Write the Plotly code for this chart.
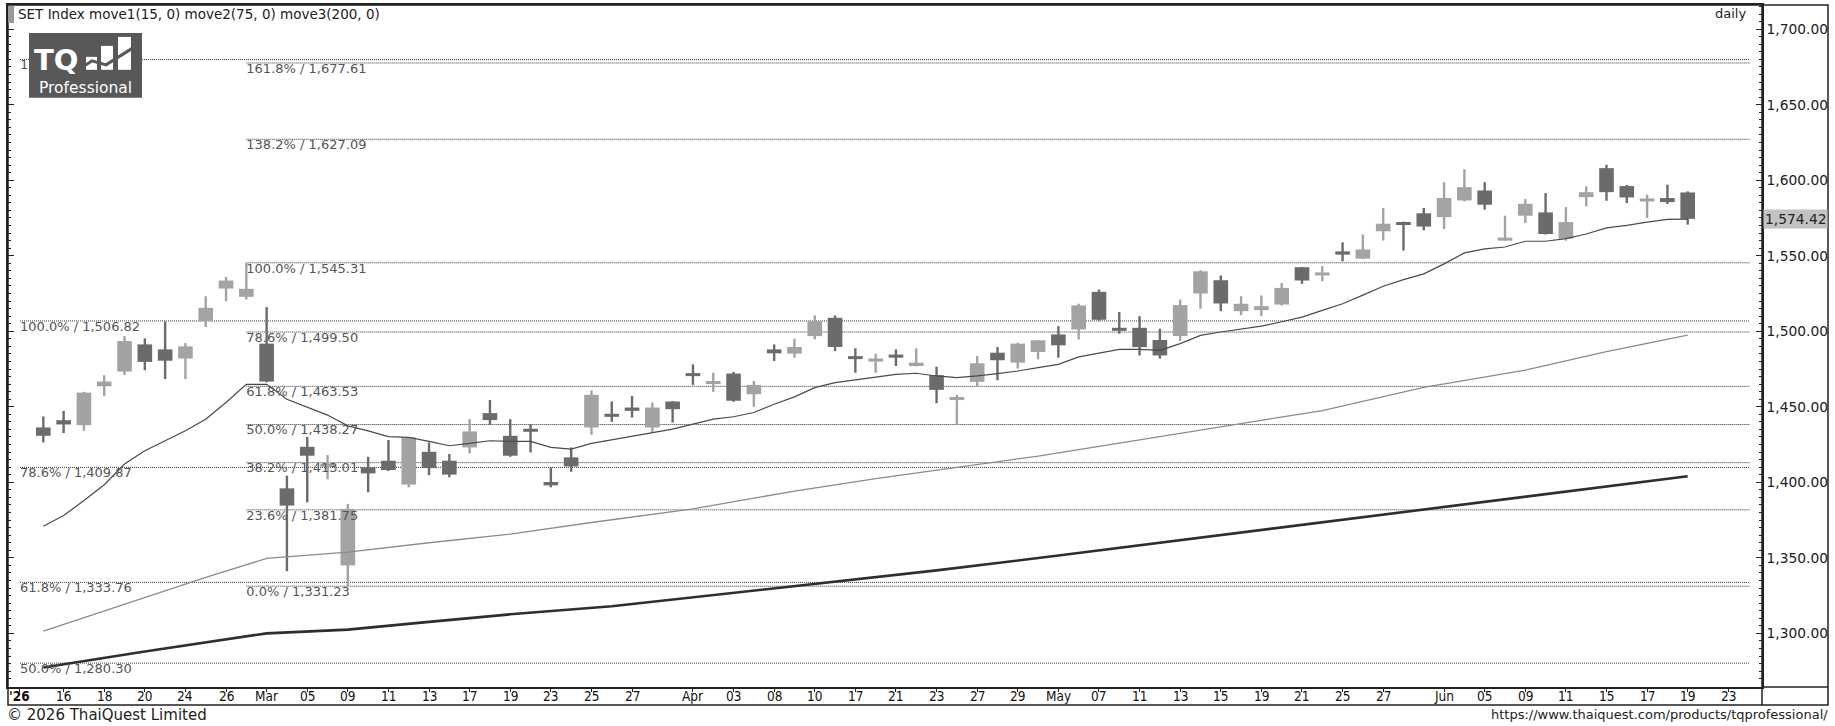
import plotly.graph_objects as go

# ---------------- data ----------------
opens = [1436.3, 1441.1, 1437.8, 1463.6, 1473.3, 1491.3, 1488.0, 1482.0, 1506.7, 1528.3,
         1522.8, 1491.8, 1396.0, 1423.5, 1410.5, 1345.0, 1409.9, 1414.3, 1398.5, 1420.2,
         1414.3, 1423.1, 1445.8, 1430.8, 1435.2, 1400.2, 1416.5, 1436.3, 1445.1, 1449.5,
         1436.3, 1453.5, 1472.0, 1465.4, 1472.0, 1458.3, 1488.0, 1485.2, 1496.8, 1508.9,
         1483.2, 1480.3, 1484.3, 1477.0, 1470.9, 1454.8, 1466.5, 1485.8, 1479.2, 1486.3,
         1497.9, 1501.2, 1526.1, 1502.0, 1502.3, 1494.2, 1496.8, 1525.0, 1533.8, 1513.3,
         1514.0, 1517.7, 1542.4, 1537.3, 1552.9, 1548.1, 1566.2, 1572.1, 1578.1, 1575.6,
         1586.6, 1593.2, 1560.2, 1576.5, 1578.7, 1561.3, 1588.8, 1608.0, 1596.1, 1586.4,
         1588.2, 1591.9]
highs = [1443.6, 1447.3, 1459.9, 1470.9, 1496.8, 1495.3, 1506.5, 1492.2, 1523.2, 1536.0,
         1545.31, 1516.0, 1404.4, 1430.1, 1418.0, 1385.7, 1416.9, 1428.0, 1430.0, 1426.4,
         1418.7, 1441.8, 1454.5, 1441.8, 1438.5, 1409.9, 1423.1, 1460.9, 1453.5, 1457.2,
         1452.8, 1453.8, 1478.1, 1472.6, 1473.1, 1467.1, 1491.3, 1495.0, 1510.5, 1510.5,
         1488.7, 1485.1, 1488.0, 1488.7, 1476.6, 1457.9, 1483.6, 1489.6, 1492.4, 1494.2,
         1503.4, 1518.2, 1527.6, 1512.7, 1510.0, 1501.7, 1521.0, 1540.4, 1536.9, 1523.2,
         1523.7, 1532.0, 1542.6, 1543.1, 1558.9, 1564.0, 1581.6, 1572.6, 1581.6, 1598.7,
         1607.3, 1598.7, 1576.5, 1587.5, 1591.5, 1582.2, 1595.9, 1610.2, 1596.9, 1590.4,
         1597.0, 1592.6]
lows = [1426.4, 1432.6, 1434.1, 1457.0, 1471.1, 1474.2, 1468.4, 1468.4, 1502.8, 1519.9,
        1521.0, 1466.2, 1341.2, 1386.8, 1402.0, 1331.23, 1393.4, 1407.5, 1396.7, 1404.8,
        1403.3, 1419.1, 1438.1, 1416.9, 1419.8, 1396.7, 1407.0, 1431.4, 1440.0, 1442.9,
        1433.0, 1439.6, 1464.5, 1459.9, 1453.3, 1450.0, 1480.3, 1482.5, 1494.6, 1486.9,
        1472.6, 1472.6, 1477.0, 1476.8, 1452.4, 1437.9, 1463.4, 1467.6, 1475.3, 1481.4,
        1482.5, 1494.6, 1507.0, 1498.4, 1484.0, 1481.9, 1493.5, 1514.9, 1513.3, 1510.7,
        1510.0, 1517.0, 1531.4, 1533.2, 1546.3, 1547.8, 1560.0, 1553.4, 1566.8, 1567.7,
        1586.0, 1580.5, 1560.0, 1571.7, 1564.0, 1560.0, 1582.7, 1586.4, 1584.9, 1575.0,
        1584.2, 1570.6]
closes = [1430.8, 1438.3, 1459.4, 1466.7, 1493.5, 1479.7, 1480.5, 1490.0, 1515.5, 1533.6,
          1528.1, 1466.7, 1384.6, 1417.6, 1412.0, 1382.4, 1405.9, 1408.1, 1429.7, 1409.4,
          1405.1, 1433.7, 1441.2, 1417.6, 1433.7, 1398.0, 1410.5, 1457.9, 1443.6, 1447.3,
          1449.5, 1448.4, 1470.6, 1466.7, 1454.0, 1464.5, 1485.4, 1489.6, 1506.7, 1489.6,
          1481.9, 1481.6, 1482.8, 1479.2, 1461.2, 1456.1, 1478.8, 1480.8, 1491.8, 1494.0,
          1490.7, 1517.1, 1507.6, 1500.6, 1489.5, 1484.0, 1517.3, 1539.7, 1518.4, 1518.2,
          1516.6, 1528.7, 1533.6, 1538.6, 1550.7, 1554.1, 1571.2, 1570.6, 1569.3, 1588.2,
          1595.4, 1583.8, 1561.8, 1584.4, 1564.4, 1572.3, 1592.1, 1592.1, 1588.6, 1587.5,
          1585.5, 1574.42]

ma15 = [1370.9, 1378.0, 1387.9, 1398.4, 1412.1, 1420.9, 1427.5, 1434.1, 1441.8, 1452.8,
        1464.9, 1464.9, 1455.0, 1449.5, 1444.5, 1437.4, 1434.1, 1430.2, 1429.7, 1427.1,
        1424.2, 1425.8, 1427.5, 1427.1, 1427.1, 1423.1, 1422.0, 1425.8, 1428.2, 1430.4,
        1433.0, 1435.2, 1438.5, 1441.8, 1443.4, 1446.2, 1451.7, 1456.6, 1462.7, 1466.0,
        1467.8, 1469.6, 1471.5, 1472.2, 1470.4, 1469.3, 1470.4, 1472.0, 1473.7, 1475.9,
        1478.1, 1483.0, 1485.4, 1488.0, 1488.0, 1487.4, 1491.8, 1497.3, 1499.5, 1501.2,
        1503.4, 1506.3, 1509.4, 1513.8, 1518.2, 1523.9, 1529.8, 1534.2, 1538.0, 1544.6,
        1551.9, 1554.5, 1555.8, 1559.6, 1559.6, 1561.3, 1564.4, 1568.4, 1570.1, 1572.3,
        1574.1, 1574.3]

ma75_idx = [0, 4, 8, 11, 15, 19, 23, 27, 32, 37, 41, 45, 49, 53, 58, 63, 68, 73, 77, 81]
ma75_val = [1301.4, 1319.0, 1337.0, 1349.6, 1353.8, 1360.0, 1365.7, 1373.4, 1382.4, 1394.2,
            1402.5, 1409.9, 1417.3, 1426.0, 1436.8, 1447.5, 1462.8, 1474.2, 1486.5, 1497.5]

ma200_idx = [0, 5, 11, 15, 19, 23, 28, 32, 38, 44, 50, 55, 61, 67, 74, 81]
ma200_val = [1277.4, 1288.0, 1300.0, 1302.5, 1307.6, 1312.6, 1317.9, 1323.9, 1333.0, 1341.7,
             1351.5, 1360.0, 1370.0, 1380.0, 1392.0, 1404.0]

tick_idx = [-1.15, 1, 3, 5, 7, 9, 11, 13, 15, 17, 19, 21, 23, 25, 27, 29, 32, 34, 36, 38, 40,
            42, 44, 46, 48, 50, 52, 54, 56, 58, 60, 62, 64, 66, 69, 71, 73, 75, 77, 79, 81, 83]
tick_text = ["<b>'26</b>", "16", "18", "20", "24", "26", "Mar", "05", "09", "11", "13", "17",
             "19", "23", "25", "27", "Apr", "03", "08", "10", "17", "21", "23", "27", "29",
             "May", "07", "11", "13", "15", "19", "21", "25", "27", "Jun", "05", "09", "11",
             "15", "17", "19", "23"]

fib_left_start = -1.15
fib_left_pcts = [50.0, 61.8, 78.6, 100.0, 138.2]
fib_left_vals = [1280.30, 1333.76, 1409.87, 1506.82, 1679.88]
fib_right_start = 10
fib_right_pcts = [0.0, 23.6, 38.2, 50.0, 61.8, 78.6, 100.0, 138.2, 161.8]
fib_right_vals = [1331.23, 1381.75, 1413.01, 1438.27, 1463.53, 1499.50, 1545.31, 1627.09, 1677.61]
fib_end = 84.07

last_price = 1574.42
y_ticks = [1300, 1350, 1400, 1450, 1500, 1550, 1600, 1650, 1700]

# ---------------- layout geometry (pixels of the 1835x726 page) ----------------
W, H = 1835, 726
FX0, FX1, FY0, FY1 = 8, 1828, 3, 705          # outer frame = paper area
PR, PB = 1762, 687                            # plot right edge / plot bottom
X_RANGE = [-1.74, 84.66]
Y_RANGE = [1264.45, 1716.0]


def px(x):
    return (x - FX0) / (FX1 - FX0)


def py(y):
    return (FY1 - y) / (FY1 - FY0)


BULL = "#a3a3a3"
BEAR = "#6b6b6b"
TXT = "#555555"
FONT = "DejaVu Sans"
NARROW = "Liberation Sans Narrow, Arial Narrow, DejaVu Sans Condensed, sans-serif"
FRAME = "#222222"

n = len(closes)
fig = go.Figure()

# candle bodies + wicks
MIN_BODY = 2.0
for kind, color in (("bull", BULL), ("bear", BEAR)):
    xs, bases, hs = [], [], []
    for i in range(n):
        is_bull = closes[i] >= opens[i]
        if (kind == "bull") != is_bull:
            continue
        lo, hi = min(opens[i], closes[i]), max(opens[i], closes[i])
        if hi - lo < MIN_BODY:
            m = (hi + lo) / 2
            lo, hi = m - MIN_BODY / 2, m + MIN_BODY / 2
        xs.append(i)
        bases.append(lo)
        hs.append(hi - lo)
    fig.add_trace(go.Bar(x=xs, y=hs, base=bases, width=0.72,
                         marker=dict(color=color, line=dict(width=0)),
                         hoverinfo="skip", showlegend=False))
    wx, wy = [], []
    for i in xs:
        wx += [i, i, None]
        wy += [lows[i], highs[i], None]
    fig.add_trace(go.Scatter(x=wx, y=wy, mode="lines",
                             line=dict(color=color, width=2.4),
                             hoverinfo="skip", showlegend=False))

# moving averages
fig.add_trace(go.Scatter(x=ma200_idx, y=ma200_val, mode="lines",
                         line=dict(color="#2e2e2e", width=2.6),
                         hoverinfo="skip", showlegend=False))
fig.add_trace(go.Scatter(x=ma75_idx, y=ma75_val, mode="lines",
                         line=dict(color="#8c8c8c", width=1.3),
                         hoverinfo="skip", showlegend=False))
fig.add_trace(go.Scatter(x=list(range(n)), y=ma15, mode="lines",
                         line=dict(color="#4a4a4a", width=1.2),
                         hoverinfo="skip", showlegend=False))

# fibonacci lines and labels
shapes = []
for start, pcts, vals in ((fib_left_start, fib_left_pcts, fib_left_vals),
                          (fib_right_start, fib_right_pcts, fib_right_vals)):
    for v in vals:
        shapes.append(dict(type="line", xref="x", yref="y", x0=start, x1=fib_end, y0=v, y1=v,
                           line=dict(color="#303030", width=1, dash="1px,1px"), layer="below"))
    fig.add_trace(go.Scatter(
        x=[start] * len(vals), y=vals, mode="text",
        text=[f"{p:.1f}% / {v:,.2f}" for p, v in zip(pcts, vals)],
        textposition="bottom right",
        textfont=dict(family=FONT, size=13, color=TXT),
        hoverinfo="skip", showlegend=False, cliponaxis=False))

# outer frame, price-axis separator, bottom-right box
shapes.append(dict(type="rect", xref="paper", yref="paper", x0=0, x1=1, y0=0, y1=1,
                   line=dict(color=FRAME, width=1.5), layer="above"))
shapes.append(dict(type="line", xref="paper", yref="paper",
                   x0=px(PR), x1=px(PR), y0=0, y1=1,
                   line=dict(color=FRAME, width=1.5), layer="above"))
shapes.append(dict(type="line", xref="paper", yref="paper",
                   x0=px(PR), x1=1, y0=py(PB), y1=py(PB),
                   line=dict(color=FRAME, width=1.5), layer="above"))
# small indicator block next to the title
shapes.append(dict(type="rect", xref="paper", yref="paper",
                   x0=px(8), x1=px(14), y0=py(21), y1=py(4),
                   fillcolor="#9a9a9a", line=dict(width=0), layer="above"))
# logo
shapes.append(dict(type="rect", xref="paper", yref="paper",
                   x0=px(29), x1=px(142), y0=py(96), y1=py(31),
                   fillcolor="#585858", line=dict(width=0), layer="above"))
for bx0, bx1, btop in ((86, 97, 55), (101, 113, 44), (118, 131, 35)):
    shapes.append(dict(type="rect", xref="paper", yref="paper",
                       x0=px(bx0), x1=px(bx1), y0=py(68), y1=py(btop),
                       fillcolor="white", line=dict(width=0), layer="above"))
shapes.append(dict(type="path", xref="paper", yref="paper",
                   path="M {} {} L {} {} L {} {} L {} {}".format(
                       px(80), py(67), px(92), py(59), px(106), py(63), px(133), py(46)),
                   line=dict(color="#585858", width=3), layer="above"))

annotations = [
    dict(text="SET Index move1(15, 0) move2(75, 0) move3(200, 0)", xref="paper", yref="paper",
         x=px(16), y=py(12), xanchor="left", yanchor="middle", showarrow=False,
         font=dict(family=FONT, size=13.5, color="#222")),
    dict(text="daily", xref="paper", yref="paper", x=px(1748), y=py(12),
         xanchor="right", yanchor="middle", showarrow=False,
         font=dict(family=FONT, size=13, color="#222")),
    dict(text="TQ", xref="paper", yref="paper", x=px(32), y=py(58),
         xanchor="left", yanchor="middle", showarrow=False,
         font=dict(family="DejaVu Sans", size=29, color="white", weight="bold")),
    dict(text="Professional", xref="paper", yref="paper", x=px(85.5), y=py(86),
         xanchor="center", yanchor="middle", showarrow=False,
         font=dict(family=FONT, size=15.5, color="white")),
    dict(text=f"{last_price:,.2f}", xref="paper", yref="y", x=px(1763), y=last_price,
         xanchor="left", yanchor="middle", showarrow=False, bgcolor="#c2c2c2",
         borderpad=1, font=dict(family=FONT, size=13.8, color="#222")),
    dict(text="© 2026 ThaiQuest Limited", xref="paper", yref="paper", x=px(5), y=py(715),
         xanchor="left", yanchor="middle", showarrow=False,
         font=dict(family=FONT, size=15, color="#222")),
    dict(text="https://www.thaiquest.com/products/tqprofessional/", xref="paper", yref="paper",
         x=px(1830), y=py(715), xanchor="right", yanchor="middle", showarrow=False,
         font=dict(family=FONT, size=13, color="#222")),
]
# date labels under the axis (placed as text so they sit tight under the ticks)
for xi, tt in zip(tick_idx, tick_text):
    annotations.append(dict(text=tt, xref="x", yref="paper", x=xi, y=py(696),
                            xanchor="center", yanchor="middle", showarrow=False,
                            font=dict(family=NARROW, size=13.5, color="#111")))

fig.update_layout(
    width=W, height=H,
    margin=dict(l=FX0, r=W - FX1, t=FY0, b=H - FY1, pad=0),
    paper_bgcolor="white", plot_bgcolor="white",
    barmode="overlay", showlegend=False,
    shapes=shapes, annotations=annotations,
    xaxis=dict(domain=[0, px(PR)], range=X_RANGE, tickmode="array", tickvals=tick_idx,
               showticklabels=False,
               ticks="outside", ticklen=3, tickcolor=FRAME, showgrid=False, zeroline=False,
               showline=True, linecolor=FRAME, linewidth=1.5, mirror=True),
    yaxis=dict(domain=[py(PB), 1], range=Y_RANGE, side="right", tickmode="array",
               tickvals=y_ticks, ticktext=[f"{v:,.2f}" for v in y_ticks],
               ticks="inside", ticklen=6, tickcolor=FRAME, showgrid=False, zeroline=False,
               showline=True, linecolor=FRAME, linewidth=1.5, mirror="ticks",
               minor=dict(dtick=5, ticks="inside", ticklen=3, tickcolor=FRAME),
               tickfont=dict(family=FONT, size=13.8, color="#222")),
)

fig.write_html("out.html", config={"displayModeBar": False},
               post_script="document.body.style.margin='0';document.body.style.overflow='hidden';")
